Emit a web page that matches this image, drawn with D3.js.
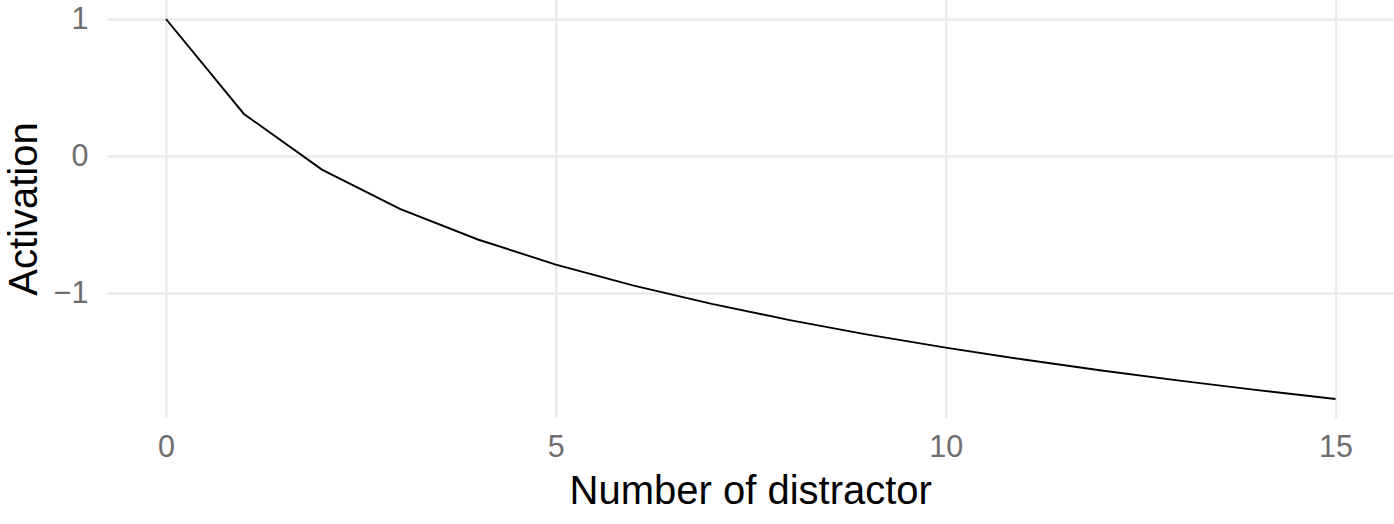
<!DOCTYPE html>
<html>
  <head>
    <meta charset="utf-8">
    <title></title>
  </head>
  <style>
    body{
      margin: 0;
      background-color: #fff;
      font-family: "Liberation Sans", Arial, sans-serif;
    }
    .grid line{
      stroke: #ebebeb;
      stroke-width: 2.4
    }
    .grid path{ display: none }
    .tick text{ fill: #6e6e6e }
  </style>
  <script src="https://d3js.org/d3.v7.min.js"></script>
  <body>
    <script>
    // number of distractors
    const distractors = [0, 1, 2, 3, 4, 5, 6, 7, 8, 9, 10, 11, 12, 13, 14, 15]
    // activation
    const activation = [1, 0.307, -0.099, -0.386, -0.609, -0.792, -0.946, -1.079,
                        -1.197, -1.303, -1.398, -1.485, -1.565, -1.639, -1.708, -1.773]
    const xTicks = [0, 5, 10, 15]
    const yTicks = [-1, 0, 1]

    var W = 1394, H = 524
    var panel = { left: 107.5, right: 1394, top: 0, bottom: 418 }

    var svg = d3.select("body").append("svg")
                .attr("width", W)
                .attr("height", H)

    // ggplot style 5% expansion
    let xr = d3.extent(distractors), xpad = (xr[1] - xr[0]) * 0.05
    let yr = d3.extent(activation), ypad = (yr[1] - yr[0]) * 0.05

    let xScale = d3.scaleLinear()
                   .domain([xr[0] - xpad, xr[1] + xpad])
                   .range([panel.left, panel.right])
    let yScale = d3.scaleLinear()
                   .domain([yr[0] - ypad, yr[1] + ypad])
                   .range([panel.bottom, panel.top])

    // grid
    svg.append("g")
       .attr("class", "grid")
       .attr("transform", "translate(0," + panel.bottom + ")")
       .call(d3.axisBottom(xScale).tickValues(xTicks)
               .tickSize(-(panel.bottom - panel.top)).tickFormat(""))
    svg.append("g")
       .attr("class", "grid")
       .attr("transform", "translate(" + panel.left + ",0)")
       .call(d3.axisLeft(yScale).tickValues(yTicks)
               .tickSize(-(panel.right - panel.left)).tickFormat(""))

    // tick labels
    let fmt = d => d < 0 ? "\u2212" + Math.abs(d) : String(d)

    let xAxis = svg.append("g")
       .attr("transform", "translate(0," + panel.bottom + ")")
       .call(d3.axisBottom(xScale).tickValues(xTicks).tickSize(0).tickPadding(17).tickFormat(fmt))
    xAxis.select(".domain").remove()
    xAxis.selectAll("text").attr("font-size", "30.5px").attr("font-family", "Liberation Sans, Arial, sans-serif")

    let yAxis = svg.append("g")
       .attr("transform", "translate(" + panel.left + ",0)")
       .call(d3.axisLeft(yScale).tickValues(yTicks).tickSize(0).tickPadding(19).tickFormat(fmt))
    yAxis.select(".domain").remove()
    yAxis.selectAll("text").attr("font-size", "30.5px").attr("font-family", "Liberation Sans, Arial, sans-serif")

    // line
    let line = d3.line()
                 .x((d, i) => xScale(distractors[i]))
                 .y(d => yScale(d))
    svg.append("path")
       .datum(activation)
       .attr("fill", "none")
       .attr("stroke", "#000")
       .attr("stroke-width", 1.9)
       .attr("d", line)

    // axis titles
    svg.append("text")
       .attr("x", (panel.left + panel.right) / 2)
       .attr("y", 504)
       .attr("text-anchor", "middle")
       .attr("font-size", "40px")
       .attr("fill", "#000")
       .text("Number of distractor")

    svg.append("text")
       .attr("transform", "translate(37," + (panel.top + panel.bottom) / 2 + ") rotate(-90)")
       .attr("text-anchor", "middle")
       .attr("font-size", "40px")
       .attr("fill", "#000")
       .text("Activation")
    </script>
  </body>
</html>
